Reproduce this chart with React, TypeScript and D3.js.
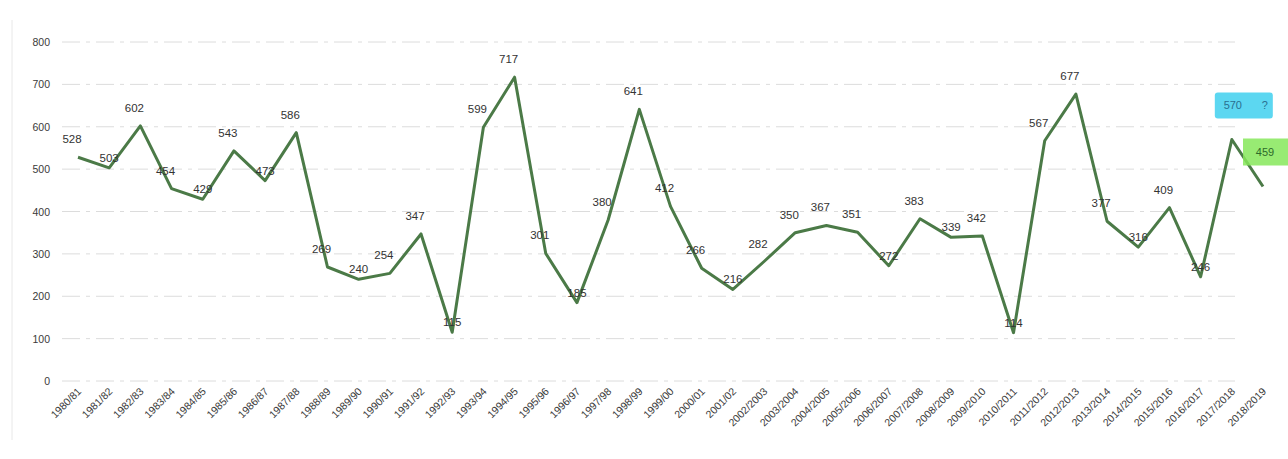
import React from "react";
import * as d3 from "d3";

const categories = [
  "1980/81","1981/82","1982/83","1983/84","1984/85","1985/86","1986/87","1987/88","1988/89","1989/90",
  "1990/91","1991/92","1992/93","1993/94","1994/95","1995/96","1996/97","1997/98","1998/99","1999/00",
  "2000/01","2001/02","2002/2003","2003/2004","2004/2005","2005/2006","2006/2007","2007/2008","2008/2009","2009/2010",
  "2010/2011","2011/2012","2012/2013","2013/2014","2014/2015","2015/2016","2016/2017","2017/2018","2018/2019",
];
const values = [
  528, 503, 602, 454, 429, 543, 473, 586, 269, 240,
  254, 347, 115, 599, 717, 301, 185, 380, 641, 412,
  266, 216, 282, 350, 367, 351, 272, 383, 339, 342,
  114, 567, 677, 377, 316, 409, 246, 570, 459,
];
const yTicks = [0, 100, 200, 300, 400, 500, 600, 700, 800];

const W = 1288;
const H = 459;

export default function App() {
  const x = d3.scalePoint<string>().domain(categories).range([78, 1263]);
  const y = d3.scaleLinear().domain([0, 800]).range([381, 42]);
  const line = d3
    .line<number>()
    .x((_, i) => x(categories[i]) as number)
    .y((v) => y(v));

  const n = values.length;
  return (
    <svg
      width={W}
      height={H}
      style={{ position: "absolute", left: 0, top: 0, background: "#fff" }}
      fontFamily="Liberation Sans, Arial, sans-serif"
    >
      <line x1={12} x2={12} y1={20} y2={440} stroke="#e8e8e8" strokeWidth={1} />
      {yTicks.map((t) => (
        <g key={t}>
          <line
            x1={62}
            x2={1235}
            y1={y(t)}
            y2={y(t)}
            stroke="#dcdcdc"
            strokeWidth={1}
            strokeDasharray="18 6 4 6"
          />
          <text x={50} y={y(t) + 4} textAnchor="end" fontSize={10.5} fill="#3a3a3a">
            {t}
          </text>
        </g>
      ))}
      <path d={line(values) || ""} fill="none" stroke="#4b7a47" strokeWidth={3} strokeLinejoin="round" />
      {values.map((v, i) => {
        const px = x(categories[i]) as number;
        const py = y(v);
        const isLow = i > 0 && i < n - 1 && v < values[i - 1] && v < values[i + 1];
        const ly = isLow ? py - 6 : py - 14;
        const lx = isLow ? px : px - 6;
        if (i === n - 2) {
          return (
            <g key={i}>
              <rect x={px - 17} y={py - 47} width={58} height={26} rx={3} fill="#3fd0ee" opacity={0.85} />
              <text x={px + 1} y={py - 30} textAnchor="middle" fontSize={11} fill="#2a6f90">
                {v}
              </text>
              <text x={px + 33} y={py - 30} textAnchor="middle" fontSize={11} fill="#2a6f90">?</text>
            </g>
          );
        }
        if (i === n - 1) {
          return (
            <g key={i}>
              <rect x={px - 20} y={py - 48} width={48} height={27} fill="#86e85a" opacity={0.85} />
              <text x={px + 2} y={py - 30} textAnchor="middle" fontSize={11} fill="#2d6a2a">
                {v}
              </text>
            </g>
          );
        }
        return (
          <text key={i} x={lx} y={ly} textAnchor="middle" fontSize={11.5} fill="#333">
            {v}
          </text>
        );
      })}
      {categories.map((c) => {
        const px = x(c) as number;
        return (
          <text
            key={c}
            transform={`translate(${px + 4},${392}) rotate(-45)`}
            textAnchor="end"
            fontSize={10.5}
            fill="#3a3a3a"
          >
            {c}
          </text>
        );
      })}
    </svg>
  );
}
